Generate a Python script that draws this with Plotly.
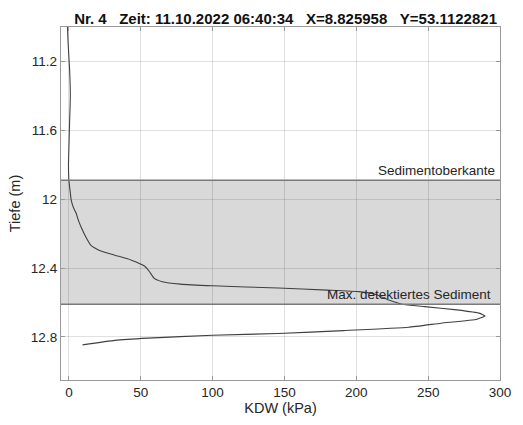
import plotly.graph_objects as go

# Sounding profile: depth (m) and cone resistance KDW (kPa)
depth = [11.0, 11.1, 11.25, 11.4, 11.55, 11.7, 11.8, 11.89, 11.95, 12.006,
         12.05, 12.08, 12.12, 12.16, 12.22, 12.267, 12.296, 12.325, 12.354, 12.388,
         12.42, 12.46, 12.479, 12.493, 12.503, 12.516, 12.528, 12.537, 12.553, 12.586,
         12.61, 12.624, 12.643, 12.663, 12.678, 12.697, 12.72, 12.744, 12.763, 12.78,
         12.79, 12.807, 12.82, 12.846]
kdw = [-1.0, -0.5, 0.5, 1.0, 0.5, 0.0, -0.3, 0.0, 0.8, 1.6,
       3.2, 5.0, 6.5, 8.4, 11.8, 15.2, 20.9, 32.0, 43.5, 52.6,
       56.0, 59.4, 65.0, 77.6, 100.0, 145.6, 179.6, 202.0, 213.6, 222.7,
       231.8, 247.6, 270.0, 286.0, 289.6, 284.0, 259.0, 236.3, 191.0, 145.6,
       100.0, 55.0, 32.0, 9.5]

# Sediment layer limits (m)
sediment_top = 11.89
sediment_bottom = 12.61

x_ticks = [0, 50, 100, 150, 200, 250, 300]
y_ticks = [11.2, 11.6, 12.0, 12.4, 12.8]
y_tick_text = ["11.2", "11.6", "12", "12.4", "12.8"]

title_text = "Nr. 4\u00a0\u00a0\u00a0Zeit: 11.10.2022 06:40:34\u00a0\u00a0\u00a0X=8.825958\u00a0\u00a0\u00a0Y=53.1122821"

font_family = "Liberation Sans, Arial, sans-serif"
text_color = "#262626"
axis_color = "#999999"

fig = go.Figure()

fig.add_trace(go.Scatter(
    x=kdw, y=depth, mode="lines",
    line=dict(color="#404040", width=1.1, shape="spline", smoothing=0.4),
    showlegend=False, hoverinfo="skip",
))

# Shaded sediment band with boundary lines
fig.add_shape(type="rect", xref="x domain", yref="y",
              x0=0, x1=1, y0=sediment_top, y1=sediment_bottom,
              fillcolor="#d9d9d9", line=dict(width=0), layer="below")
for yv in (sediment_top, sediment_bottom):
    fig.add_shape(type="line", xref="x domain", yref="y",
                  x0=0, x1=1, y0=yv, y1=yv,
                  line=dict(color="#7a7a7a", width=1.3), layer="above")

fig.add_annotation(xref="x domain", yref="y", x=0.987, y=sediment_top,
                   text="Sedimentoberkante", showarrow=False,
                   xanchor="right", yanchor="bottom", xshift=3, yshift=0,
                   font=dict(family=font_family, size=13.5, color=text_color))
fig.add_annotation(xref="x domain", yref="y", x=0.98, y=sediment_bottom,
                   text="Max. detektiertes Sediment", showarrow=False,
                   xanchor="right", yanchor="bottom", xshift=2, yshift=0,
                   font=dict(family=font_family, size=13.5, color=text_color))

fig.update_layout(
    width=523, height=425,
    margin=dict(l=61, r=13, t=27, b=45),
    paper_bgcolor="white", plot_bgcolor="white",
    font=dict(family=font_family, size=13.5, color=text_color),
    title=dict(text="<b>" + title_text + "</b>", x=0.546, xanchor="center",
               y=0.957, yanchor="middle",
               font=dict(family=font_family, size=15, color="#111111")),
)

fig.update_xaxes(
    range=[-5.5, 300], tickvals=x_ticks,
    title=dict(text="KDW (kPa)", standoff=3, font=dict(size=14.5, color=text_color)),
    showgrid=True, gridcolor="rgba(0,0,0,0.12)", gridwidth=1,
    zeroline=False, showline=True, linecolor=axis_color, linewidth=1.3,
    mirror="ticks", ticks="inside", ticklen=4, tickcolor=axis_color,
    tickfont=dict(size=13.5, color=text_color),
)
fig.update_yaxes(
    range=[13.05, 11.0], tickvals=y_ticks, ticktext=y_tick_text,
    title=dict(text="Tiefe (m)", standoff=6, font=dict(size=14.5, color=text_color)),
    showgrid=True, gridcolor="rgba(0,0,0,0.12)", gridwidth=1,
    zeroline=False, showline=True, linecolor=axis_color, linewidth=1.3,
    mirror="ticks", ticks="inside", ticklen=4, tickcolor=axis_color,
    tickfont=dict(size=13.5, color=text_color),
)

fig.write_html("out.html")
